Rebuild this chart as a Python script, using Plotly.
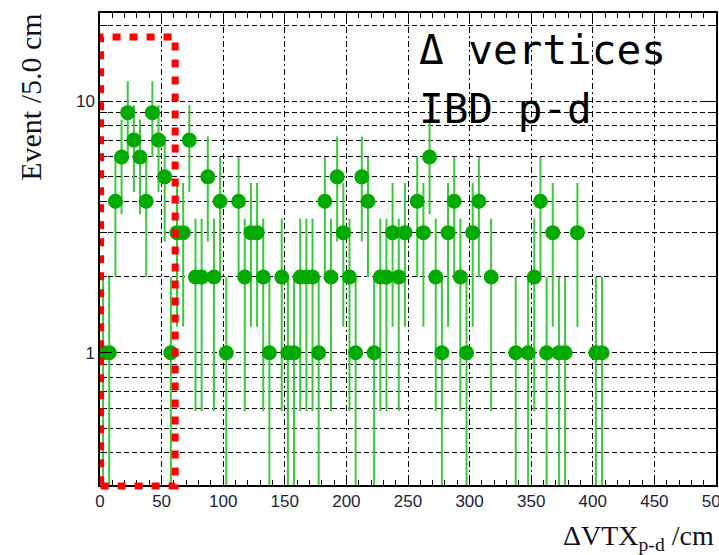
import math
import plotly.graph_objects as go

# ---- data (histogram of Delta VTX p-d, 5 cm bins starting at 0) ----
bin_width = 5.0
counts = [1, 1, 4, 6, 9, 7, 6, 4, 9, 7,
          5, 1, 3, 3, 7, 2, 2, 5, 2, 4,
          1, 0, 4, 2, 3, 3, 2, 1, 0, 2,
          1, 1, 2, 2, 2, 1, 4, 2, 5, 3,
          2, 1, 5, 4, 1, 2, 2, 3, 2, 3,
          0, 4, 3, 6, 2, 1, 3, 4, 2, 1,
          3, 4, 0, 2, 0, 0, 0, 1, 0, 1,
          2, 4, 1, 3, 1, 1, 0, 3, 0, 0,
          1, 1]

x_ticks = [0, 50, 100, 150, 200, 250, 300, 350, 400, 450, 500]
y_major = [1, 10]
y_minor = [0.3, 0.4, 0.5, 0.6, 0.7, 0.8, 0.9, 2, 3, 4, 5, 6, 7, 8, 9, 20]
x_range = [0, 500]
y_range = [0.298, 22.4]
box_x = [0.5, 61]

xs = [(i + 0.5) * bin_width for i, c in enumerate(counts) if c > 0]
ys = [c for c in counts if c > 0]
errs = [math.sqrt(c) for c in ys]

fig = go.Figure()
fig.add_trace(go.Scatter(
    x=xs, y=ys, mode="markers",
    marker=dict(color="#00aa00", size=15, line=dict(width=0)),
    error_y=dict(type="data", array=errs, visible=True, color="#3cc83c",
                 thickness=2, width=0),
    showlegend=False,
))

tickfont = dict(family="Liberation Sans, Arial, sans-serif", size=17, color="#222233")

fig.update_xaxes(
    range=x_range, tickvals=x_ticks, showline=True, linecolor="black", linewidth=1.5,
    mirror="ticks", ticks="inside", tickcolor="black", ticklen=10, tickwidth=1,
    showgrid=True, gridcolor="black", griddash="6px,3px,2px,3px", gridwidth=1,
    minor=dict(dtick=10, tick0=0, ticks="inside", ticklen=5, tickcolor="black",
               tickwidth=1, showgrid=False),
    tickfont=tickfont, zeroline=False, ticklabeloverflow="allow", automargin=False,
)
fig.update_yaxes(
    type="log", range=[math.log10(y_range[0]), math.log10(y_range[1])],
    tickvals=y_major, ticktext=[str(v) for v in y_major],
    showline=True, linecolor="black", linewidth=1.5, mirror="ticks",
    ticks="inside", tickcolor="black", ticklen=12, tickwidth=1,
    showgrid=True, gridcolor="black", griddash="5px,3px", gridwidth=1,
    minor=dict(tickvals=y_minor, ticks="inside", ticklen=7, tickcolor="black",
               tickwidth=1, showgrid=True, gridcolor="black", griddash="5px,3px",
               gridwidth=1),
    tickfont=tickfont, zeroline=False, automargin=False,
)

# red dashed selection box
fig.add_shape(type="rect", xref="x", yref="paper",
              x0=box_x[0], x1=box_x[1], y0=-0.002, y1=0.949,
              line=dict(color="#ff0000", width=7, dash="8px,9px"),
              fillcolor="rgba(0,0,0,0)", layer="above")

serif = "Liberation Serif, Times New Roman, serif"
mono = "DejaVu Sans Mono, monospace"

fig.add_annotation(text="Event /5.0 cm", xref="paper", yref="paper",
                   x=-0.114, y=0.822, textangle=-90, showarrow=False,
                   xanchor="center", yanchor="middle",
                   font=dict(family=serif, size=30, color="#111122"))
fig.add_annotation(text="ΔVTX<sub>p-d</sub> /cm", xref="paper", yref="paper",
                   x=1.0, y=-0.112, showarrow=False,
                   xanchor="right", yanchor="middle",
                   font=dict(family=serif, size=28, color="#111122"))
fig.add_annotation(text="Δ vertices", xref="paper", yref="paper",
                   x=0.5146, y=0.921, showarrow=False,
                   xanchor="left", yanchor="middle",
                   font=dict(family=mono, size=41, color="black"))
fig.add_annotation(text="IBD p-d", xref="paper", yref="paper",
                   x=0.5146, y=0.797, showarrow=False,
                   xanchor="left", yanchor="middle",
                   font=dict(family=mono, size=41, color="black"))

fig.update_layout(
    width=719, height=555,
    margin=dict(l=100, r=3, t=13, b=70, autoexpand=False),
    paper_bgcolor="white", plot_bgcolor="white",
)

fig.write_html("out.html")
